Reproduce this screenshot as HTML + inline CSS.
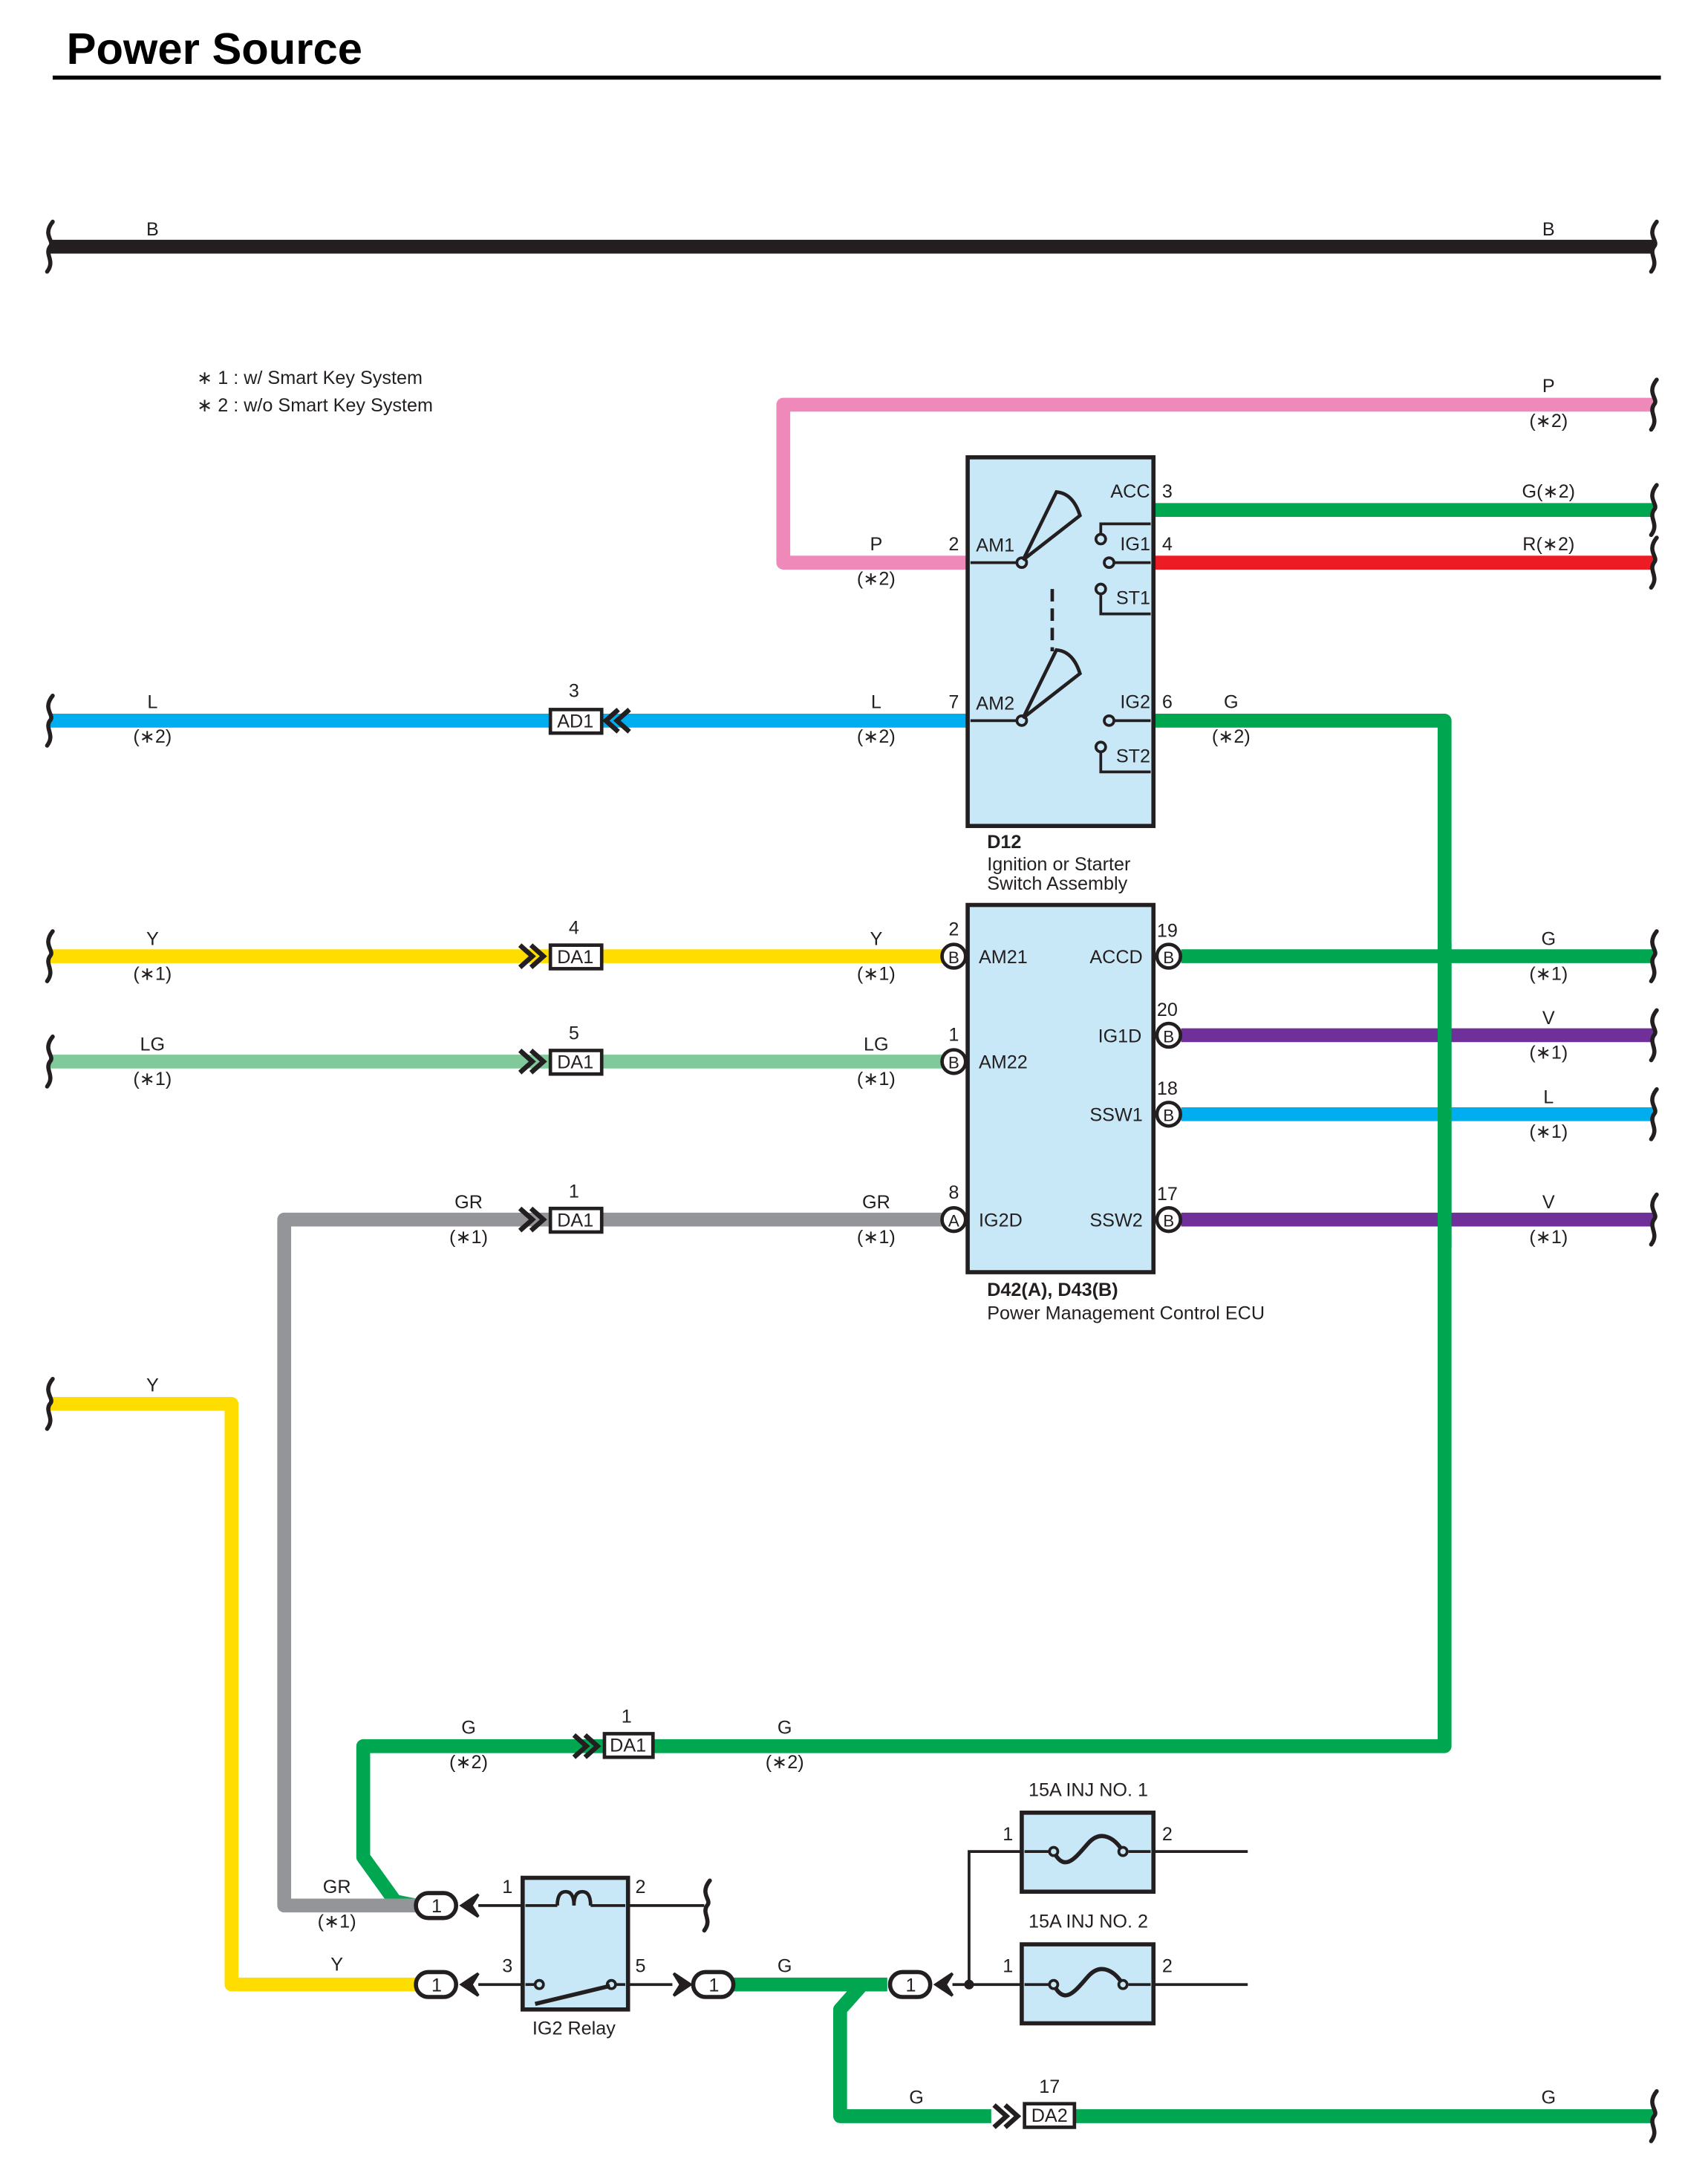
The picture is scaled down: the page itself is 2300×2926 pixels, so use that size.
<!DOCTYPE html>
<html><head><meta charset="utf-8"><style>
html,body{margin:0;padding:0;background:#fff;}
svg{display:block;}
text{font-family:"Liberation Sans",sans-serif;font-size:13.5px;fill:#231f20;}
.c{text-anchor:middle;}
.w{fill:none;stroke-width:10;stroke-linejoin:round;}
.k{fill:none;stroke:#231f20;stroke-width:2;}
.br{fill:none;stroke:#231f20;stroke-width:3;stroke-linecap:round;}
.box{fill:#c8e8f8;stroke:#231f20;stroke-width:3;}
</style></head><body>
<svg width="2300" height="2926" viewBox="0 0 1232 1568" preserveAspectRatio="none" xmlns="http://www.w3.org/2000/svg">
<defs>
<path id="brk" d="M2,-18 C-6,-8 4,-4 0,0 C-4,6 4,10 -2,18" class="br"/>
<g id="chR"><path d="M0,-8 L9,0 L0,8 M8,-8 L17,0 L8,8" fill="none" stroke="#231f20" stroke-width="3.5"/></g>
<g id="chL"><path d="M17,-8 L8,0 L17,8 M9,-8 L0,0 L9,8" fill="none" stroke="#231f20" stroke-width="3.5"/></g>
</defs>
<rect width="1232" height="1568" fill="#fff"/>
<text x="48" y="46" style="font-size:32px;font-weight:bold;fill:#000">Power Source</text>
<line x1="38" y1="56" x2="1198" y2="56" stroke="#000" stroke-width="3"/>

<!-- B -->
<line x1="36" y1="178" x2="1193" y2="178" stroke="#231f20" stroke-width="10"/>
<use href="#brk" x="36" y="178"/><use href="#brk" x="1193" y="178"/>
<text class="c" x="110" y="170">B</text><text class="c" x="1117" y="170">B</text>

<text x="142" y="277">∗ 1 : w/ Smart Key System</text>
<text x="142" y="297">∗ 2 : w/o Smart Key System</text>

<!-- Pink -->
<path class="w" stroke="#ef89ba" d="M1193,292 H565 V406 H698"/>
<use href="#brk" x="1193" y="292"/>
<text class="c" x="1117" y="283">P</text><text class="c" x="1117" y="308">(∗2)</text>
<text class="c" x="632" y="397">P</text><text class="c" x="632" y="422">(∗2)</text><text class="c" x="688" y="397">2</text>

<!-- green 3, red 4 -->
<path class="w" stroke="#00a650" d="M832,368 H1193"/><use href="#brk" x="1193" y="368"/>
<path class="w" stroke="#ed1c24" d="M832,406 H1193"/><use href="#brk" x="1193" y="406"/>
<text class="c" x="1117" y="359">G(∗2)</text><text class="c" x="1117" y="397">R(∗2)</text>
<text class="c" x="842" y="359">3</text><text class="c" x="842" y="397">4</text>

<!-- Blue L -->
<path class="w" stroke="#00aeef" d="M36,520 H698"/><use href="#brk" x="36" y="520"/>
<rect x="397" y="512" width="37" height="17" fill="#fff" stroke="#231f20" stroke-width="2.5"/>
<text class="c" x="415" y="525">AD1</text><use href="#chL" x="437" y="520"/>
<text class="c" x="110" y="511">L</text><text class="c" x="110" y="536">(∗2)</text>
<text class="c" x="414" y="503">3</text>
<text class="c" x="632" y="511">L</text><text class="c" x="632" y="536">(∗2)</text><text class="c" x="688" y="511">7</text>

<!-- big green loop -->
<path class="w" stroke="#00a650" d="M832,520 H1042 V1260 H262 V1340 L285,1372 L300,1375"/>
<text class="c" x="842" y="511">6</text><text class="c" x="888" y="511">G</text><text class="c" x="888" y="536">(∗2)</text>

<!-- D12 box -->
<rect class="box" x="698" y="330" width="134" height="266"/>
<g class="k">
<line x1="700" y1="406" x2="734" y2="406"/><line x1="700" y1="520" x2="734" y2="520"/>
<circle cx="737" cy="406" r="3.5" fill="#c8e8f8"/><circle cx="737" cy="520" r="3.5" fill="#c8e8f8"/>
<path d="M738,404 L762,355 Q774,356 779,372 Z" stroke-width="2.5"/>
<path d="M738,518 L762,469 Q774,470 779,486 Z" stroke-width="2.5"/>
<line x1="759" y1="425" x2="759" y2="470" stroke-dasharray="9,5" stroke-width="2.5"/>
<path d="M830,378 H794 V386"/><circle cx="794" cy="389" r="3.5" fill="#c8e8f8"/>
<line x1="803" y1="406" x2="830" y2="406"/><circle cx="800" cy="406" r="3.5" fill="#c8e8f8"/>
<circle cx="794" cy="425" r="3.5" fill="#c8e8f8"/><path d="M794,428 V443 H830"/>
<line x1="803" y1="520" x2="830" y2="520"/><circle cx="800" cy="520" r="3.5" fill="#c8e8f8"/>
<circle cx="794" cy="539" r="3.5" fill="#c8e8f8"/><path d="M794,542 V557 H830"/>
</g>
<text x="704" y="398">AM1</text><text x="704" y="512">AM2</text>
<text x="801" y="359">ACC</text><text x="808" y="397">IG1</text><text x="805" y="436">ST1</text>
<text x="808" y="511">IG2</text><text x="805" y="550">ST2</text>
<text x="712" y="612" style="font-weight:bold">D12</text>
<text x="712" y="628">Ignition or Starter</text><text x="712" y="642">Switch Assembly</text>

<!-- ECU -->
<path class="w" stroke="#ffdd00" d="M36,690 H680"/><use href="#brk" x="36" y="690"/>
<path class="w" stroke="#80c99b" d="M36,766 H680"/><use href="#brk" x="36" y="766"/>
<path class="w" stroke="#939598" d="M680,880 H205 V1375 H300"/>
<path class="w" stroke="#00a650" d="M852,690 H1193"/><use href="#brk" x="1193" y="690"/>
<path class="w" stroke="#70309a" d="M852,747 H1193"/><use href="#brk" x="1193" y="747"/>
<path class="w" stroke="#00aeef" d="M852,804 H1193"/><use href="#brk" x="1193" y="804"/>
<path class="w" stroke="#70309a" d="M852,880 H1193"/><use href="#brk" x="1193" y="880"/>
<path class="w" stroke="#00a650" d="M1042,680 V900"/>

<g>
<rect x="397" y="682" width="37" height="17" fill="#fff" stroke="#231f20" stroke-width="2.5"/><text class="c" x="415" y="695">DA1</text><use href="#chR" x="375" y="690"/>
<rect x="397" y="758" width="37" height="17" fill="#fff" stroke="#231f20" stroke-width="2.5"/><text class="c" x="415" y="771">DA1</text><use href="#chR" x="375" y="766"/>
<rect x="397" y="872" width="37" height="17" fill="#fff" stroke="#231f20" stroke-width="2.5"/><text class="c" x="415" y="885">DA1</text><use href="#chR" x="375" y="880"/>
</g>
<text class="c" x="110" y="682">Y</text><text class="c" x="110" y="707">(∗1)</text><text class="c" x="414" y="674">4</text>
<text class="c" x="632" y="682">Y</text><text class="c" x="632" y="707">(∗1)</text><text class="c" x="688" y="675">2</text>
<text class="c" x="110" y="758">LG</text><text class="c" x="110" y="783">(∗1)</text><text class="c" x="414" y="750">5</text>
<text class="c" x="632" y="758">LG</text><text class="c" x="632" y="783">(∗1)</text><text class="c" x="688" y="751">1</text>
<text class="c" x="338" y="872">GR</text><text class="c" x="338" y="897">(∗1)</text><text class="c" x="414" y="864">1</text>
<text class="c" x="632" y="872">GR</text><text class="c" x="632" y="897">(∗1)</text><text class="c" x="688" y="865">8</text>

<rect class="box" x="698" y="653" width="134" height="265"/>
<g>
<circle cx="688" cy="690" r="8.5" fill="#fff" stroke="#231f20" stroke-width="2.5"/><text class="c" x="688" y="695" style="font-size:12px">B</text>
<circle cx="688" cy="766" r="8.5" fill="#fff" stroke="#231f20" stroke-width="2.5"/><text class="c" x="688" y="771" style="font-size:12px">B</text>
<circle cx="688" cy="880" r="8.5" fill="#fff" stroke="#231f20" stroke-width="2.5"/><text class="c" x="688" y="885" style="font-size:12px">A</text>
<circle cx="843" cy="690" r="8.5" fill="#fff" stroke="#231f20" stroke-width="2.5"/><text class="c" x="843" y="695" style="font-size:12px">B</text>
<circle cx="843" cy="747" r="8.5" fill="#fff" stroke="#231f20" stroke-width="2.5"/><text class="c" x="843" y="752" style="font-size:12px">B</text>
<circle cx="843" cy="804" r="8.5" fill="#fff" stroke="#231f20" stroke-width="2.5"/><text class="c" x="843" y="809" style="font-size:12px">B</text>
<circle cx="843" cy="880" r="8.5" fill="#fff" stroke="#231f20" stroke-width="2.5"/><text class="c" x="843" y="885" style="font-size:12px">B</text>
</g>
<text x="706" y="695">AM21</text><text x="706" y="771">AM22</text><text x="706" y="885">IG2D</text>
<text x="786" y="695">ACCD</text><text x="792" y="752">IG1D</text><text x="786" y="809">SSW1</text><text x="786" y="885">SSW2</text>
<text class="c" x="842" y="676">19</text><text class="c" x="842" y="733">20</text><text class="c" x="842" y="790">18</text><text class="c" x="842" y="866">17</text>
<text class="c" x="1117" y="682">G</text><text class="c" x="1117" y="707">(∗1)</text>
<text class="c" x="1117" y="739">V</text><text class="c" x="1117" y="764">(∗1)</text>
<text class="c" x="1117" y="796">L</text><text class="c" x="1117" y="821">(∗1)</text>
<text class="c" x="1117" y="872">V</text><text class="c" x="1117" y="897">(∗1)</text>
<text x="712" y="935" style="font-weight:bold">D42(A), D43(B)</text>
<text x="712" y="952">Power Management Control ECU</text>

<!-- lower yellow -->
<path class="w" stroke="#ffdd00" d="M36,1013 H167 V1432 H300"/><use href="#brk" x="36" y="1013"/>
<text class="c" x="110" y="1004">Y</text>

<!-- lower green DA1 -->
<rect x="436" y="1251" width="35" height="17" fill="#fff" stroke="#231f20" stroke-width="2.5"/><text class="c" x="453" y="1264">DA1</text><use href="#chR" x="414" y="1260"/>
<text class="c" x="338" y="1251">G</text><text class="c" x="338" y="1276">(∗2)</text><text class="c" x="452" y="1243">1</text>
<text class="c" x="566" y="1251">G</text><text class="c" x="566" y="1276">(∗2)</text>
<text class="c" x="243" y="1366">GR</text><text class="c" x="243" y="1391">(∗1)</text><text class="c" x="243" y="1422">Y</text>

<!-- relay -->
<g class="k">
<line x1="345" y1="1375" x2="402" y2="1375"/><line x1="426" y1="1375" x2="508" y2="1375"/>
<line x1="345" y1="1432" x2="385" y2="1432"/><line x1="444" y1="1432" x2="485" y2="1432"/>
<line x1="687" y1="1432" x2="737" y2="1432"/><path d="M699,1432 V1336 H737"/>
<line x1="832" y1="1336" x2="900" y2="1336"/><line x1="832" y1="1432" x2="900" y2="1432"/>
</g>
<use href="#brk" x="510" y="1375"/>
<rect class="box" x="377" y="1355" width="76" height="95"/>
<path d="M402,1375 q0,-10 6,-10 q6,0 6,10 q0,-10 6,-10 q6,0 6,10" fill="none" stroke="#231f20" stroke-width="2.5"/>
<line x1="379" y1="1375" x2="402" y2="1375" stroke="#231f20" stroke-width="2"/><line x1="426" y1="1375" x2="451" y2="1375" stroke="#231f20" stroke-width="2"/>
<line x1="379" y1="1432" x2="386" y2="1432" stroke="#231f20" stroke-width="2"/><line x1="444" y1="1432" x2="451" y2="1432" stroke="#231f20" stroke-width="2"/>
<circle cx="389" cy="1432" r="3" fill="#c8e8f8" stroke="#231f20" stroke-width="2"/>
<circle cx="441" cy="1432" r="3" fill="#c8e8f8" stroke="#231f20" stroke-width="2"/>
<line x1="386" y1="1446" x2="440" y2="1433" stroke="#231f20" stroke-width="3"/>
<text class="c" x="366" y="1366">1</text><text class="c" x="462" y="1366">2</text>
<text class="c" x="366" y="1423">3</text><text class="c" x="462" y="1423">5</text>
<text class="c" x="414" y="1468">IG2 Relay</text>

<!-- green after relay -->
<path class="w" stroke="#00a650" d="M528,1432 H640"/>
<path class="w" stroke="#00a650" d="M622,1432 L606,1450 V1527 H715"/>
<path class="w" stroke="#00a650" d="M775,1527 H1193"/><use href="#brk" x="1193" y="1527"/>
<text class="c" x="566" y="1423">G</text><text class="c" x="661" y="1518">G</text><text class="c" x="1117" y="1518">G</text>
<rect x="739" y="1518" width="36" height="17" fill="#fff" stroke="#231f20" stroke-width="2.5"/><text class="c" x="757" y="1531">DA2</text><use href="#chR" x="717" y="1527"/>
<text class="c" x="757" y="1510">17</text>

<!-- ovals -->
<g stroke="#231f20" stroke-width="3" fill="#fff">
<rect x="300" y="1366" width="29" height="18" rx="9"/><rect x="300" y="1423" width="29" height="18" rx="9"/>
<rect x="500" y="1423" width="29" height="18" rx="9"/><rect x="642" y="1423" width="29" height="18" rx="9"/>
</g>
<text class="c" x="315" y="1380">1</text><text class="c" x="315" y="1437">1</text>
<text class="c" x="515" y="1437">1</text><text class="c" x="657" y="1437">1</text>
<path d="M345,1367 L333,1375 L345,1383 L340,1375 Z" fill="#231f20" stroke="#231f20" stroke-width="2"/>
<path d="M345,1424 L333,1432 L345,1440 L340,1432 Z" fill="#231f20" stroke="#231f20" stroke-width="2"/>
<path d="M486,1424 L498,1432 L486,1440 L491,1432 Z" fill="#231f20" stroke="#231f20" stroke-width="2"/>
<path d="M687,1424 L675,1432 L687,1440 L682,1432 Z" fill="#231f20" stroke="#231f20" stroke-width="2"/>
<circle cx="699" cy="1432" r="3.5" fill="#231f20"/>

<!-- fuses -->
<rect class="box" x="737" y="1308" width="95" height="57"/>
<rect class="box" x="737" y="1403" width="95" height="57"/>
<g fill="none" stroke="#231f20" stroke-width="2">
<line x1="739" y1="1336" x2="757" y2="1336"/><line x1="814" y1="1336" x2="830" y2="1336"/>
<line x1="739" y1="1432" x2="757" y2="1432"/><line x1="814" y1="1432" x2="830" y2="1432"/>
<path d="M760,1336 C768,1352 776,1340 785,1330 C794,1320 804,1326 810,1336" stroke-width="3"/>
<path d="M760,1432 C768,1448 776,1436 785,1426 C794,1416 804,1422 810,1432" stroke-width="3"/>
<circle cx="760" cy="1336" r="3" fill="#c8e8f8"/><circle cx="810" cy="1336" r="3" fill="#c8e8f8"/>
<circle cx="760" cy="1432" r="3" fill="#c8e8f8"/><circle cx="810" cy="1432" r="3" fill="#c8e8f8"/>
</g>
<text class="c" x="785" y="1296">15A INJ NO. 1</text><text class="c" x="785" y="1391">15A INJ NO. 2</text>
<text class="c" x="727" y="1328">1</text><text class="c" x="842" y="1328">2</text>
<text class="c" x="727" y="1423">1</text><text class="c" x="842" y="1423">2</text>
</svg>
</body></html>
